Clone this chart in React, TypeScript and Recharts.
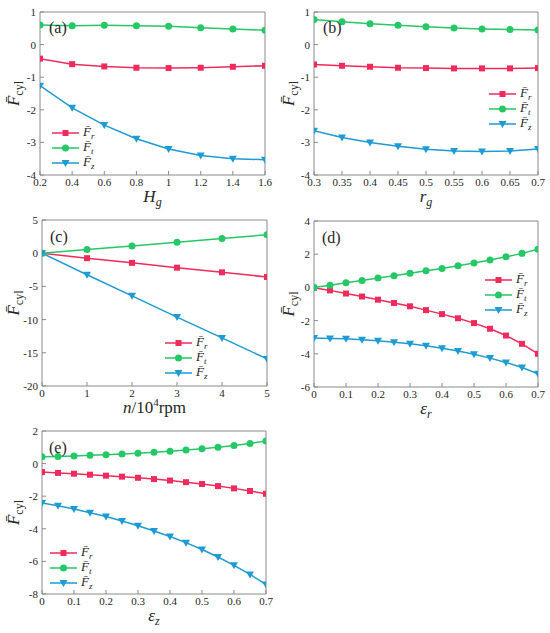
import type { ReactNode } from 'react'
import { Legend, Line, LineChart, XAxis, YAxis } from 'recharts'

const SERIF = 'Liberation Serif, Times New Roman, serif'
const RED = '#ef2b5c'
const GREEN = '#25c766'
const BLUE = '#1d9bd3'
const AXIS = '#8a8a8a'
const TEXT = '#262626'

// (a) Hg sweep
const hgX = [0.2, 0.4, 0.6, 0.8, 1.0, 1.2, 1.4, 1.6]
const hgFr = [-0.43, -0.6, -0.67, -0.71, -0.72, -0.71, -0.68, -0.65]
const hgFt = [0.6, 0.58, 0.59, 0.58, 0.56, 0.52, 0.48, 0.44]
const hgFz = [-1.26, -1.94, -2.47, -2.89, -3.2, -3.4, -3.5, -3.53]
const hgTicks = [0.2, 0.4, 0.6, 0.8, 1, 1.2, 1.4, 1.6]

// (b) rg sweep
const rgX = [0.3, 0.35, 0.4, 0.45, 0.5, 0.55, 0.6, 0.65, 0.7]
const rgFr = [-0.61, -0.65, -0.68, -0.71, -0.72, -0.73, -0.73, -0.73, -0.72]
const rgFt = [0.77, 0.7, 0.64, 0.59, 0.55, 0.51, 0.48, 0.46, 0.45]
const rgFz = [-2.64, -2.85, -3.0, -3.12, -3.21, -3.26, -3.28, -3.26, -3.2]
const rgTicks = [0.3, 0.35, 0.4, 0.45, 0.5, 0.55, 0.6, 0.65, 0.7]

// (c) speed sweep
const nX = [0, 1, 2, 3, 4, 5]
const nFr = [0, -0.75, -1.45, -2.18, -2.88, -3.58]
const nFt = [0, 0.56, 1.1, 1.65, 2.2, 2.78]
const nFz = [0, -3.25, -6.42, -9.62, -12.76, -15.92]
const nTicks = [0, 1, 2, 3, 4, 5]

// (d) eps_r sweep
const epsX = [0, 0.05, 0.1, 0.15, 0.2, 0.25, 0.3, 0.35, 0.4, 0.45, 0.5, 0.55, 0.6, 0.65, 0.7]
const erFr = [-0.02, -0.18, -0.37, -0.55, -0.74, -0.94, -1.14, -1.37, -1.61, -1.86, -2.15, -2.49, -2.9, -3.4, -4.0]
const erFt = [0, 0.13, 0.28, 0.42, 0.56, 0.7, 0.85, 1.0, 1.14, 1.3, 1.47, 1.65, 1.84, 2.05, 2.3]
const erFz = [-3.05, -3.08, -3.1, -3.15, -3.22, -3.3, -3.4, -3.52, -3.66, -3.83, -4.03, -4.26, -4.52, -4.83, -5.2]

// (e) eps_z sweep
const ezFr = [-0.52, -0.57, -0.62, -0.68, -0.74, -0.8, -0.87, -0.95, -1.04, -1.14, -1.25, -1.38, -1.52, -1.68, -1.85]
const ezFt = [0.42, 0.44, 0.47, 0.51, 0.55, 0.59, 0.64, 0.7, 0.76, 0.83, 0.91, 1.0, 1.11, 1.24, 1.38]
const ezFz = [-2.42, -2.59, -2.79, -3.01, -3.25, -3.52, -3.81, -4.13, -4.47, -4.85, -5.27, -5.73, -6.24, -6.8, -7.42]
const epsTicks = [0, 0.1, 0.2, 0.3, 0.4, 0.5, 0.6, 0.7]

const yTicksA = [-4, -3, -2, -1, 0, 1]
const yTicksC = [-20, -15, -10, -5, 0, 5]
const yTicksD = [-6, -4, -2, 0, 2, 4]
const yTicksE = [-8, -6, -4, -2, 0, 2]

interface Row {
  x: number
  fr: number
  ft: number
  fz: number
}

function rows(x: number[], fr: number[], ft: number[], fz: number[]): Row[] {
  return x.map((v, i) => ({ x: v, fr: fr[i], ft: ft[i], fz: fz[i] }))
}

type Shape = 'square' | 'circle' | 'triangle'

function marker(shape: Shape, cx: number, cy: number, color: string, key?: string) {
  if (shape === 'square') return <rect key={key} x={cx - 3} y={cy - 3} width={6} height={6} fill={color} />
  if (shape === 'circle') return <circle key={key} cx={cx} cy={cy} r={3.5} fill={color} />
  return <polygon key={key} points={`${cx - 4},${cy - 3} ${cx + 4},${cy - 3} ${cx},${cy + 4}`} fill={color} />
}

const SERIES = [
  { key: 'fr', sub: 'r', color: RED, shape: 'square' as Shape },
  { key: 'ft', sub: 't', color: GREEN, shape: 'circle' as Shape },
  { key: 'fz', sub: 'z', color: BLUE, shape: 'triangle' as Shape },
]

const renderLegend = () => (
  <div style={{ fontFamily: SERIF, color: TEXT }}>
    {SERIES.map((s) => (
      <div key={s.key} style={{ display: 'flex', alignItems: 'center', height: 15 }}>
        <svg width={27} height={10} style={{ display: 'block' }}>
          <line x1={0} y1={5} x2={27} y2={5} stroke={s.color} strokeWidth={1.5} />
          {marker(s.shape, 13.5, 5, s.color)}
        </svg>
        <span style={{ marginLeft: 4, fontSize: 13, fontStyle: 'italic', lineHeight: '15px' }}>
          F̄<span style={{ fontSize: 9, position: 'relative', top: 3 }}>{s.sub}</span>
        </span>
      </div>
    ))}
  </div>
)

interface PanelProps {
  tag: string
  data: Row[]
  xDomain: [number, number]
  xTicks: number[]
  yDomain: [number, number]
  yTicks: number[]
  left: number
  top: number
  height?: number
  plot: { l: number; r: number; t: number; b: number }
  legend: { x: number; y: number }
  tagPos: { x: number; y: number }
  xLabel: ReactNode
}

const W = 275
const tickStyle = { fill: TEXT, fontSize: 11, fontFamily: SERIF }

function Panel({ tag, data, xDomain, xTicks, yDomain, yTicks, left, top, height = 210, plot, legend, tagPos, xLabel }: PanelProps) {
  const cx = (plot.l + plot.r) / 2
  const cy = (plot.t + plot.b) / 2
  return (
    <div style={{ position: 'absolute', left, top, width: W, height }}>
      <LineChart
        width={W}
        height={height}
        data={data}
        style={{ fontFamily: SERIF }}
        margin={{ top: plot.t - 1, right: W - plot.r - 1, left: 0, bottom: 0 }}
      >
        <XAxis
          type="number"
          dataKey="x"
          domain={xDomain}
          ticks={xTicks}
          interval={0}
          allowDataOverflow
          height={height - plot.b}
          tick={tickStyle}
          tickSize={-4}
          tickMargin={7}
          tickLine={{ stroke: AXIS }}
          axisLine={{ stroke: AXIS }}
          label={{
            content: () => (
              <text x={cx} y={plot.b + 27} textAnchor="middle" fontFamily={SERIF} fontSize={17} fill={TEXT}>
                {xLabel}
              </text>
            ),
          }}
        />
        <XAxis
          xAxisId="top"
          orientation="top"
          type="number"
          dataKey="x"
          domain={xDomain}
          ticks={xTicks}
          interval={0}
          allowDataOverflow
          height={1}
          tick={false}
          tickSize={-4}
          tickLine={{ stroke: AXIS }}
          axisLine={{ stroke: AXIS }}
        />
        <YAxis
          type="number"
          domain={yDomain}
          ticks={yTicks}
          interval={0}
          allowDataOverflow
          width={plot.l}
          tick={tickStyle}
          tickSize={-4}
          tickMargin={8}
          tickLine={{ stroke: AXIS }}
          axisLine={{ stroke: AXIS }}
          label={{
            content: () => (
              <text
                x={19}
                y={cy}
                transform={`rotate(-90, 19, ${cy})`}
                textAnchor="middle"
                fontFamily={SERIF}
                fontSize={17}
                fill={TEXT}
              >
                <tspan fontStyle="italic">F̄</tspan>
                <tspan dy={4} fontSize={12}>cyl</tspan>
              </text>
            ),
          }}
        />
        <YAxis
          yAxisId="right"
          orientation="right"
          type="number"
          domain={yDomain}
          ticks={yTicks}
          interval={0}
          allowDataOverflow
          width={1}
          tick={false}
          tickSize={-4}
          tickLine={{ stroke: AXIS }}
          axisLine={{ stroke: AXIS }}
        />
        {SERIES.map((s) => (
          <Line
            key={s.key}
            dataKey={s.key}
            stroke={s.color}
            strokeWidth={1.5}
            isAnimationActive={false}
            activeDot={false}
            dot={(p: any) => marker(s.shape, p.cx, p.cy, s.color, `${s.key}-${p.index}`)}
          />
        ))}
        <Legend
          layout="vertical"
          align="center"
          verticalAlign="middle"
          wrapperStyle={{ left: legend.x, top: legend.y, width: 'auto', height: 'auto' }}
          content={renderLegend}
        />
      </LineChart>
      <div
        style={{
          position: 'absolute',
          left: tagPos.x,
          top: tagPos.y - 13,
          fontFamily: SERIF,
          fontSize: 16,
          lineHeight: '16px',
          color: TEXT,
        }}
      >
        {tag}
      </div>
    </div>
  )
}

export default function App() {
  return (
    <div style={{ position: 'absolute', left: 0, top: 0, width: 550, height: 633, background: '#fff', fontFamily: SERIF }}>
      <Panel
        tag="(a)"
        data={rows(hgX, hgFr, hgFt, hgFz)}
        xDomain={[0.2, 1.6]}
        xTicks={hgTicks}
        yDomain={[-4, 1]}
        yTicks={yTicksA}
        left={0}
        top={0}
        plot={{ l: 40, r: 265, t: 12, b: 175 }}
        legend={{ x: 52, y: 125 }}
        tagPos={{ x: 49, y: 33 }}
        xLabel={
          <>
            <tspan fontStyle="italic">H</tspan>
            <tspan fontStyle="italic" fontSize={12} dy={4}>g</tspan>
          </>
        }
      />
      <Panel
        tag="(b)"
        data={rows(rgX, rgFr, rgFt, rgFz)}
        xDomain={[0.3, 0.7]}
        xTicks={rgTicks}
        yDomain={[-4, 1]}
        yTicks={yTicksA}
        left={275}
        top={0}
        plot={{ l: 39, r: 263, t: 12, b: 175 }}
        legend={{ x: 214, y: 86 }}
        tagPos={{ x: 48, y: 33 }}
        xLabel={
          <>
            <tspan fontStyle="italic">r</tspan>
            <tspan fontStyle="italic" fontSize={12} dy={4}>g</tspan>
          </>
        }
      />
      <Panel
        tag="(c)"
        data={rows(nX, nFr, nFt, nFz)}
        xDomain={[0, 5]}
        xTicks={nTicks}
        yDomain={[-20, 5]}
        yTicks={yTicksC}
        left={0}
        top={210}
        plot={{ l: 42, r: 267, t: 10, b: 176 }}
        legend={{ x: 165, y: 125 }}
        tagPos={{ x: 50, y: 32 }}
        xLabel={
          <>
            <tspan fontStyle="italic">n</tspan>
            <tspan>/10</tspan>
            <tspan fontSize={11} dy={-7}>4</tspan>
            <tspan dy={7}>rpm</tspan>
          </>
        }
      />
      <Panel
        tag="(d)"
        data={rows(epsX, erFr, erFt, erFz)}
        xDomain={[0, 0.7]}
        xTicks={epsTicks}
        yDomain={[-6, 4]}
        yTicks={yTicksD}
        left={275}
        top={210}
        plot={{ l: 39, r: 263, t: 11, b: 177 }}
        legend={{ x: 210, y: 62 }}
        tagPos={{ x: 47, y: 33 }}
        xLabel={
          <>
            <tspan fontStyle="italic">ε</tspan>
            <tspan fontStyle="italic" fontSize={12} dy={4}>r</tspan>
          </>
        }
      />
      <Panel
        tag="(e)"
        data={rows(epsX, ezFr, ezFt, ezFz)}
        xDomain={[0, 0.7]}
        xTicks={epsTicks}
        yDomain={[-8, 2]}
        yTicks={yTicksE}
        left={0}
        top={420}
        height={213}
        plot={{ l: 42, r: 266, t: 11, b: 174 }}
        legend={{ x: 50, y: 125 }}
        tagPos={{ x: 49, y: 33 }}
        xLabel={
          <>
            <tspan fontStyle="italic">ε</tspan>
            <tspan fontStyle="italic" fontSize={12} dy={4}>z</tspan>
          </>
        }
      />
    </div>
  )
}
